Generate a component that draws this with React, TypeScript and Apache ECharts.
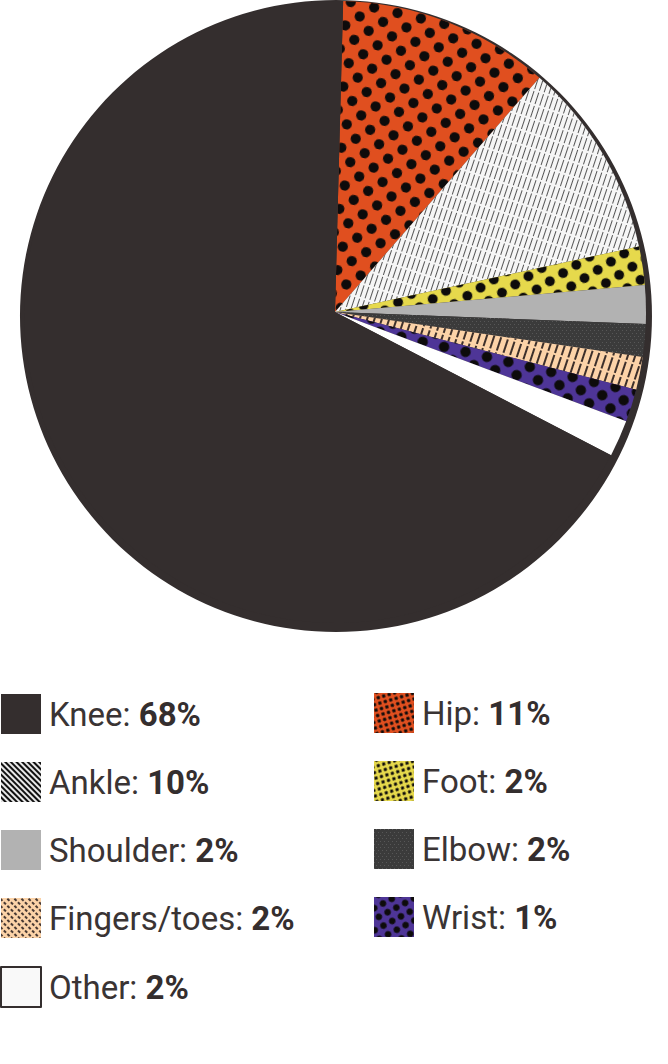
import React, { useEffect, useRef } from "react";
import * as echarts from "echarts";

// ---- data ----
const categories = ["Hip", "Ankle", "Foot", "Shoulder", "Elbow", "Fingers/toes", "Wrist", "Other", "Knee"];
// slice shares as drawn in the picture (angle-based estimates)
const sliceShares = [11.0, 10.2, 2.0, 2.0, 1.7, 1.7, 1.7, 1.9, 67.8];
// percentages printed in the legend
const legendPercents = [11, 10, 2, 2, 2, 2, 1, 2, 68];
const leftLegendNames = ["Knee", "Ankle", "Shoulder", "Fingers/toes", "Other"];
const rightLegendNames = ["Hip", "Foot", "Elbow", "Wrist"];

// ---- styles ----
const DARK = "#342e2e";
const TEXT = "#3a3434";

const dots = (dash: number, size: number, rot: number, color = "#0d0b0b") => ({
  symbol: "circle",
  symbolSize: size,
  color,
  dashArrayX: [[dash, dash], [0, dash, dash, 0]],
  dashArrayY: [dash, 0],
  rotation: rot,
});
const lines = (thick: number, gap: number, seg: number, segGap: number, rot: number, color: string) => ({
  symbol: "rect",
  symbolSize: 1,
  color,
  dashArrayX: [seg, segGap],
  dashArrayY: [thick, gap],
  rotation: rot,
});

const sliceStyle: Record<string, any> = {
  Hip: { color: "#e04f1f", decal: dots(12, 0.85, 0.23) },
  Ankle: { color: "#f6f6f6", decal: lines(0.9, 3.3, 12, 2, -1.25, "rgba(30,30,30,0.75)") },
  Foot: { color: "#e6d94c", decal: dots(11, 0.9, 0.23) },
  Shoulder: { color: "#b2b2b2" },
  Elbow: { color: "#3b3b3b", decal: { symbol: "rect", symbolSize: 1, color: "rgba(255,255,255,0.14)", dashArrayX: [[1, 3], [0, 2, 1, 1]], dashArrayY: [1, 1.5], rotation: 0 } },
  "Fingers/toes": { color: "#fcd3a8", decal: lines(2, 4.5, 14, 2, -1.25, "rgba(40,30,30,0.9)") },
  Wrist: { color: "#4e3597", decal: dots(11, 0.95, 0.23) },
  Other: { color: "#ffffff" },
  Knee: { color: DARK },
};

const legendStyle: Record<string, any> = {
  Hip: { color: "#e04f1f", decal: dots(3.2, 0.9, 0.5) },
  Ankle: { color: "#e8e8e8", decal: lines(1.3, 1.4, 20, 0, 0.785, "#111111") },
  Foot: { color: "#e6d94c", decal: dots(3.4, 0.85, 0.5) },
  Shoulder: { color: "#b2b2b2" },
  Elbow: { color: "#3b3b3b", decal: { symbol: "rect", symbolSize: 1, color: "rgba(255,255,255,0.14)", dashArrayX: [[1, 3], [0, 2, 1, 1]], dashArrayY: [1, 1.5], rotation: 0 } },
  "Fingers/toes": { color: "#fcd3a8", decal: lines(1.2, 2.8, 3, 1.5, 0.785, "rgba(40,30,30,0.85)") },
  Wrist: { color: "#4e3597", decal: dots(6.5, 0.95, 0.3) },
  Other: { color: "#f9f9f9", borderColor: DARK, borderWidth: 2 },
  Knee: { color: DARK },
};

const pctOf = (name: string) => legendPercents[categories.indexOf(name)];

const makeLegend = (names: string[], left: number, top: number) => ({
  orient: "vertical",
  left,
  top,
  itemWidth: 40,
  itemHeight: 40,
  itemGap: 28,
  icon: "rect",
  selectedMode: false,
  padding: 0,
  data: names.map((n) => ({ name: n, icon: "rect", itemStyle: legendStyle[n] })),
  formatter: (n: string) => `${n}: {b|${pctOf(n)}%}`,
  textStyle: {
    fontFamily: "Roboto",
    fontSize: 33,
    color: TEXT,
    padding: [0, 0, 0, 3],
    rich: {
      b: { fontFamily: "Roboto", fontSize: 33, fontWeight: "bold", color: DARK },
    },
  },
});

export default function App() {
  const ref = useRef<HTMLDivElement>(null);
  useEffect(() => {
    if (!ref.current) return;
    const chart = echarts.init(ref.current, null, { renderer: "svg" });
    chart.setOption({
      animation: false,
      backgroundColor: "#ffffff",
      legend: [makeLegend(leftLegendNames, 0, 694), makeLegend(rightLegendNames, 374, 693)],
      series: [
        {
          type: "pie",
          name: "disk",
          silent: true,
          center: [336, 316],
          radius: 316,
          z: 1,
          label: { show: false },
          labelLine: { show: false },
          emphasis: { disabled: true },
          data: [{ name: "disk", value: 1, itemStyle: { color: DARK } }],
        },
        {
          type: "pie",
          name: "Injuries",
          silent: true,
          center: [335, 312],
          radius: 311,
          startAngle: 88.5,
          clockwise: true,
          z: 2,
          avoidLabelOverlap: false,
          label: { show: false },
          labelLine: { show: false },
          emphasis: { disabled: true },
          itemStyle: { borderWidth: 0 },
          data: categories.map((c, i) => ({ name: c, value: sliceShares[i], itemStyle: sliceStyle[c] })),
        },
      ],
    });
    return () => chart.dispose();
  }, []);
  return <div ref={ref} style={{ position: "fixed", left: 0, top: 0, width: 668, height: 1064 }} />;
}
